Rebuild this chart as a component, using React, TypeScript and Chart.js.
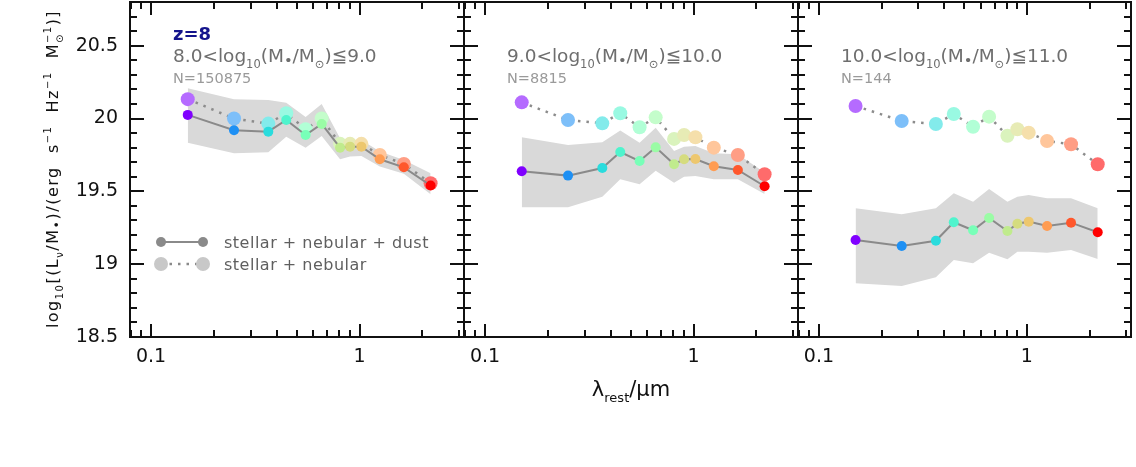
import { useEffect, useRef } from 'react';
import { Chart, registerables } from 'chart.js';

Chart.register(...registerables);

// Rest-frame band wavelengths (µm): FUV, NUV, U, B, V, R, I, z, Y, J, H, K
const wavelengths = [0.15, 0.25, 0.365, 0.445, 0.551, 0.658, 0.806, 0.9, 1.02, 1.25, 1.63, 2.19];
// rainbow colour per band (short → long wavelength)
const bandColors = ['#8000ff', '#1e90f4', '#2adcdd', '#4ff4cd', '#78ffb8', '#9afca5', '#c0eb8d', '#d5dc7f', '#edc76e', '#ff9c52', '#ff572c', '#ff0000'];

const xTickValues = [0.1, 1];
const xTickLabels = ['0.1', '1'];
const xMinorTicks = [0.08, 0.09, 0.2, 0.3, 0.4, 0.5, 0.6, 0.7, 0.8, 0.9, 2, 3];
const yTickValues = [18.5, 19, 19.5, 20, 20.5];
const yTickLabels = ['18.5', '19', '19.5', '20', '20.5'];

const redshiftLabel = 'z=8';
const massEdges = ['8.0', '9.0', '10.0', '11.0'];
const sampleSizes = ['150875', '8815', '144'];

// 8.0 < log M* <= 9.0
const dustLow = [20.025, 19.92, 19.91, 19.99, 19.887, 19.963, 19.80, 19.807, 19.807, 19.72, 19.665, 19.54];
const nebLow = [20.133, 20.0, 19.965, 20.036, 19.927, 20.0, 19.826, 19.826, 19.826, 19.75, 19.688, 19.556];
const upperLow = [20.208, 20.132, 20.128, 20.108, 20.01, 20.1, 19.864, 19.853, 19.853, 19.773, 19.715, 19.624];
const lowerLow = [19.834, 19.761, 19.768, 19.875, 19.80, 19.88, 19.72, 19.74, 19.743, 19.67, 19.62, 19.48];

// 9.0 < log M* <= 10.0
const dustMid = [19.638, 19.608, 19.66, 19.77, 19.708, 19.802, 19.686, 19.72, 19.722, 19.672, 19.647, 19.535];
const nebMid = [20.111, 19.99, 19.967, 20.036, 19.94, 20.008, 19.86, 19.887, 19.871, 19.80, 19.75, 19.617];
const upperMid = [19.871, 19.818, 19.837, 19.917, 19.834, 19.937, 19.777, 19.807, 19.811, 19.761, 19.754, 19.63];
const lowerMid = [19.39, 19.39, 19.463, 19.583, 19.548, 19.642, 19.559, 19.60, 19.605, 19.583, 19.583, 19.482];

// 10.0 < log M* <= 11.0
const dustHigh = [19.166, 19.125, 19.161, 19.288, 19.233, 19.317, 19.228, 19.278, 19.292, 19.262, 19.285, 19.219];
const nebHigh = [20.086, 19.983, 19.962, 20.031, 19.944, 20.013, 19.882, 19.926, 19.903, 19.846, 19.823, 19.686];
const upperHigh = [19.384, 19.342, 19.384, 19.487, 19.429, 19.516, 19.429, 19.463, 19.475, 19.452, 19.452, 19.384];
const lowerHigh = [18.869, 18.85, 18.91, 19.029, 19.006, 19.079, 19.033, 19.086, 19.086, 19.079, 19.097, 19.036];

const X_MIN = 0.0793;
const X_MAX = 3.166;
const Y_MIN = 18.5;
const Y_MAX = 20.8;

const FONT = 'DejaVu Sans';

type Seg = { t: string; k?: 'sub' | 'sup' | 'subsup' | 'dot'; s2?: string };

function segFont(seg: Seg, size: number, weight: string) {
  if (!seg.k) return `${weight} ${size}px "${FONT}"`;
  if (seg.k === 'dot') return `${weight} ${size * 0.8}px "${FONT}"`;
  return `${weight} ${size * 0.62}px "${FONT}"`;
}

function segWidth(ctx: CanvasRenderingContext2D, seg: Seg, size: number, weight: string) {
  ctx.font = segFont(seg, size, weight);
  const w1 = ctx.measureText(seg.t).width;
  const w2 = seg.s2 ? ctx.measureText(seg.s2).width : 0;
  return Math.max(w1, w2);
}

function drawRich(
  ctx: CanvasRenderingContext2D,
  segs: Seg[],
  x: number,
  y: number,
  size: number,
  color: string,
  align: 'left' | 'center',
  weight = 'normal',
  spacing = '0px'
) {
  ctx.save();
  ctx.fillStyle = color;
  ctx.textBaseline = 'alphabetic';
  ctx.textAlign = 'left';
  (ctx as any).letterSpacing = spacing;
  const widths = segs.map((s) => segWidth(ctx, s, size, weight));
  const total = widths.reduce((a, b) => a + b, 0);
  let cx = align === 'center' ? x - total / 2 : x;
  segs.forEach((s, i) => {
    ctx.font = segFont(s, size, weight);
    if (!s.k) ctx.fillText(s.t, cx, y);
    else if (s.k === 'dot') ctx.fillText(s.t, cx, y + size * 0.16);
    else if (s.k === 'sub') ctx.fillText(s.t, cx, y + size * 0.3);
    else if (s.k === 'sup') ctx.fillText(s.t, cx, y - size * 0.42);
    else {
      ctx.fillText(s.t, cx, y + size * 0.3);
      if (s.s2) ctx.fillText(s.s2, cx, y - size * 0.42);
    }
    cx += widths[i];
  });
  ctx.restore();
}

type Panel = {
  lo: string;
  hi: string;
  n: string;
  dust: number[];
  neb: number[];
  upper: number[];
  lower: number[];
  first: boolean;
  middle: boolean;
};

const panels: Panel[] = [
  { lo: massEdges[0], hi: massEdges[1], n: sampleSizes[0], dust: dustLow, neb: nebLow, upper: upperLow, lower: lowerLow, first: true, middle: false },
  { lo: massEdges[1], hi: massEdges[2], n: sampleSizes[1], dust: dustMid, neb: nebMid, upper: upperMid, lower: lowerMid, first: false, middle: true },
  { lo: massEdges[2], hi: massEdges[3], n: sampleSizes[2], dust: dustHigh, neb: nebHigh, upper: upperHigh, lower: lowerHigh, first: false, middle: false },
];

// pale, opaque version of each band colour for the dust-free markers
const lightColors = bandColors.map((c) => {
  const mix = (h: string) => Math.round(255 - 0.58 * (255 - parseInt(h, 16)));
  return `rgb(${mix(c.slice(1, 3))},${mix(c.slice(3, 5))},${mix(c.slice(5, 7))})`;
});

const toXY = (vals: number[]) => vals.map((v, i) => ({ x: wavelengths[i], y: v }));

function panelPlugin(p: Panel) {
  return {
    id: 'panelDecor',
    afterDraw(chart: any) {
      const { ctx, chartArea: a, scales } = chart;
      const xs = scales.x;
      const ys = scales.y;
      ctx.save();
      // frame
      ctx.strokeStyle = '#111';
      ctx.lineWidth = 2;
      ctx.strokeRect(a.left, a.top, a.right - a.left, a.bottom - a.top);
      ctx.beginPath();
      // y ticks, inward on both sides
      for (let k = 0; k <= 23; k++) {
        const v = Y_MIN + k * 0.1;
        const major = yTickValues.some((t) => Math.abs(t - v) < 1e-6);
        const len = major ? 14 : 7;
        const py = Math.round(ys.getPixelForValue(v));
        ctx.moveTo(a.left, py);
        ctx.lineTo(a.left + len, py);
        ctx.moveTo(a.right, py);
        ctx.lineTo(a.right - len, py);
      }
      // x ticks, inward on top and bottom
      const drawX = (v: number, len: number) => {
        const px = Math.round(xs.getPixelForValue(v));
        if (px < a.left || px > a.right) return;
        ctx.moveTo(px, a.bottom);
        ctx.lineTo(px, a.bottom - len);
        ctx.moveTo(px, a.top);
        ctx.lineTo(px, a.top + len);
      };
      xTickValues.forEach((v) => drawX(v, 13));
      xMinorTicks.forEach((v) => drawX(v, 7));
      ctx.stroke();
      ctx.restore();

      // panel annotations
      const tx = a.left + 43;
      if (p.first) {
        drawRich(ctx, [{ t: redshiftLabel }], tx, 40, 18, '#14148c', 'left', 'bold');
      }
      drawRich(
        ctx,
        [
          { t: `${p.lo}<log` },
          { t: '10', k: 'sub' },
          { t: '(M' },
          { t: '•', k: 'dot' },
          { t: '/M' },
          { t: '⊙', k: 'sub' },
          { t: `)≦${p.hi}` },
        ],
        tx,
        62,
        18.5,
        '#6e6e6e',
        'left'
      );
      drawRich(ctx, [{ t: `N=${p.n}` }], tx, 83, 14.5, '#9a9a9a', 'left');

      if (p.first) {
        // legend
        ctx.save();
        const lx0 = a.left + 31;
        const lx1 = a.left + 73;
        const y1 = 242;
        const y2 = 264;
        ctx.strokeStyle = '#8a8a8a';
        ctx.lineWidth = 2;
        ctx.beginPath();
        ctx.moveTo(lx0, y1);
        ctx.lineTo(lx1, y1);
        ctx.stroke();
        ctx.fillStyle = '#8a8a8a';
        [lx0, lx1].forEach((lx) => {
          ctx.beginPath();
          ctx.arc(lx, y1, 5, 0, Math.PI * 2);
          ctx.fill();
        });
        ctx.setLineDash([2.5, 6]);
        ctx.lineWidth = 2.5;
        ctx.beginPath();
        ctx.moveTo(lx0, y2);
        ctx.lineTo(lx1, y2);
        ctx.stroke();
        ctx.setLineDash([]);
        ctx.fillStyle = '#c8c8c8';
        [lx0, lx1].forEach((lx) => {
          ctx.beginPath();
          ctx.arc(lx, y2, 7, 0, Math.PI * 2);
          ctx.fill();
        });
        ctx.restore();
        drawRich(ctx, [{ t: 'stellar + nebular + dust' }], a.left + 94, y1 + 5.5, 16, '#5f5f5f', 'left', 'normal', '0.5px');
        drawRich(ctx, [{ t: 'stellar + nebular' }], a.left + 94, y2 + 5.5, 16, '#5f5f5f', 'left', 'normal', '0.5px');

        // y-axis title, rotated
        ctx.save();
        ctx.translate(58, 169);
        ctx.rotate(-Math.PI / 2);
        drawRich(
          ctx,
          [
            { t: 'log' },
            { t: '10', k: 'sub' },
            { t: '[(L' },
            { t: 'ν', k: 'sub' },
            { t: '/M' },
            { t: '•', k: 'dot' },
            { t: ')/(erg  s' },
            { t: '−1', k: 'sup' },
            { t: '  Hz' },
            { t: '−1', k: 'sup' },
            { t: '  M' },
            { t: '⊙', k: 'subsup', s2: '−1' },
            { t: ')]' },
          ],
          0,
          0,
          16,
          '#111',
          'center',
          'normal',
          '1.5px'
        );
        ctx.restore();
      }

      if (p.middle) {
        const cx = (a.left + a.right) / 2;
        drawRich(
          ctx,
          [{ t: 'λ' }, { t: 'rest', k: 'sub' }, { t: '/μm' }],
          cx,
          396,
          21,
          '#111',
          'center'
        );
      }
    },
  };
}

function buildChart(canvas: HTMLCanvasElement, p: Panel) {
  return new Chart(canvas, {
    type: 'line',
    data: {
      datasets: [
        {
          label: 'stellar + nebular + dust',
          data: toXY(p.dust),
          borderColor: '#8a8a8a',
          borderWidth: 2,
          pointRadius: 5,
          pointBorderWidth: 0,
          pointBackgroundColor: bandColors,
          pointBorderColor: bandColors,
          fill: false,
        },
        {
          label: 'stellar + nebular',
          data: toXY(p.neb),
          borderColor: '#8c8c8c',
          borderWidth: 2.5,
          borderDash: [2.5, 6],
          pointRadius: 7,
          pointBorderWidth: 0,
          pointBackgroundColor: lightColors,
          pointBorderColor: lightColors,
          fill: false,
        },
        {
          label: 'upper',
          data: toXY(p.upper),
          borderWidth: 0,
          borderColor: 'rgba(0,0,0,0)',
          backgroundColor: '#d9d9d9',
          pointRadius: 0,
          fill: '+1',
        },
        {
          label: 'lower',
          data: toXY(p.lower),
          borderWidth: 0,
          borderColor: 'rgba(0,0,0,0)',
          pointRadius: 0,
          fill: false,
        },
      ],
    },
    options: {
      animation: false,
      responsive: false,
      events: [],
      layout: { autoPadding: false, padding: { top: 2, right: 2, left: p.first ? 0 : 2, bottom: 0 } },
      plugins: { legend: { display: false }, tooltip: { enabled: false } },
      scales: {
        x: {
          type: 'logarithmic',
          min: X_MIN,
          max: X_MAX,
          bounds: 'data',
          grid: { display: false, drawTicks: false },
          border: { display: false },
          afterBuildTicks: (s: any) => {
            s.ticks = xTickValues.map((v) => ({ value: v }));
          },
          afterFit: (s: any) => {
            s.height = 130;
            s.paddingLeft = 0;
            s.paddingRight = 0;
          },
          ticks: {
            autoSkip: false,
            maxRotation: 0,
            padding: 9,
            color: '#111',
            font: { family: FONT, size: 19 },
            callback: (_v: any, i: number) => xTickLabels[i],
          },
        },
        y: {
          type: 'linear',
          min: Y_MIN,
          max: Y_MAX,
          bounds: 'data',
          display: p.first,
          grid: { display: false, drawTicks: false },
          border: { display: false },
          afterBuildTicks: (s: any) => {
            s.ticks = yTickValues.map((v) => ({ value: v }));
          },
          afterFit: (s: any) => {
            s.width = p.first ? 130 : 0;
            s.paddingTop = 0;
            s.paddingBottom = 0;
          },
          ticks: {
            padding: 12,
            color: '#111',
            font: { family: FONT, size: 19 },
            callback: (_v: any, i: number) => yTickLabels[i],
          },
        },
      },
    },
    plugins: [panelPlugin(p)],
  } as any);
}

const canvasBoxes = [
  { left: 0, width: 466 },
  { left: 462, width: 338 },
  { left: 796, width: 337 },
];

export default function App() {
  const refs = [useRef<HTMLCanvasElement>(null), useRef<HTMLCanvasElement>(null), useRef<HTMLCanvasElement>(null)];

  useEffect(() => {
    const charts = panels.map((p, i) => buildChart(refs[i].current as HTMLCanvasElement, p));
    return () => charts.forEach((c) => c.destroy());
  }, []);

  return (
    <div style={{ position: 'absolute', left: 0, top: 0, width: 1136, height: 467, background: '#fff' }}>
      {canvasBoxes.map((b, i) => (
        <canvas
          key={i}
          ref={refs[i]}
          width={b.width}
          height={467}
          style={{ position: 'absolute', left: b.left, top: 0, width: b.width, height: 467 }}
        />
      ))}
    </div>
  );
}
